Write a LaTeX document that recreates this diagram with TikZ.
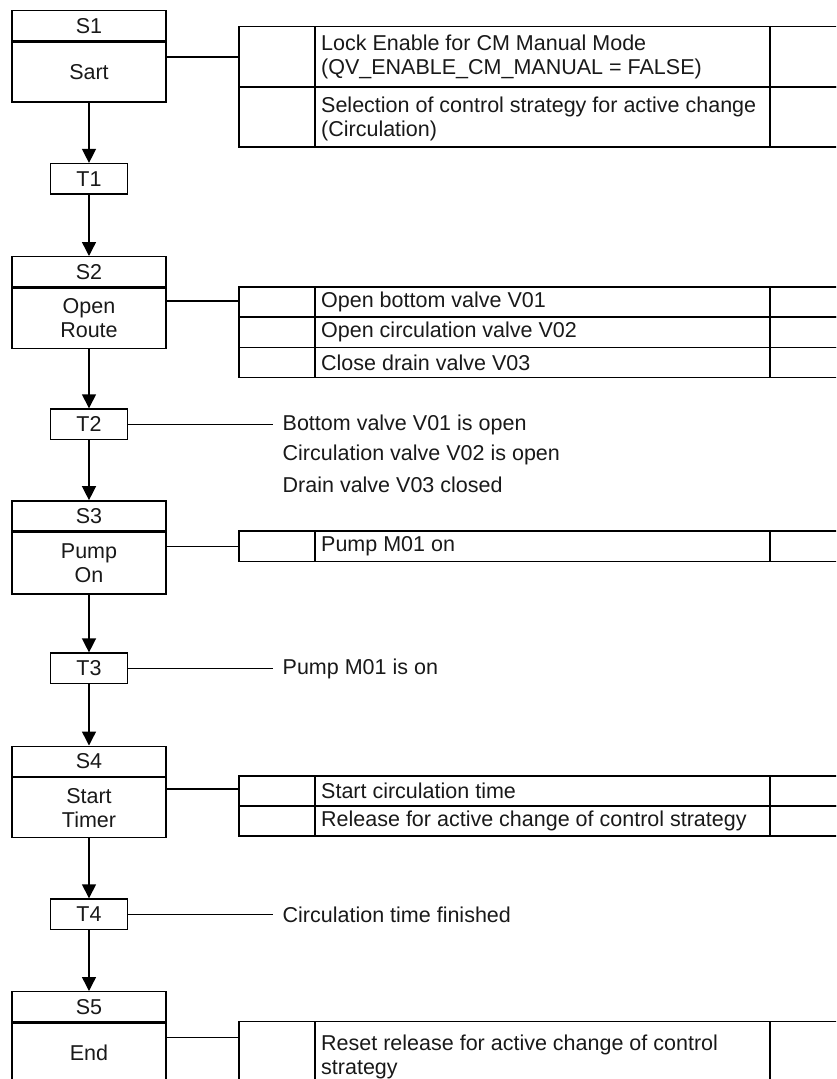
\documentclass[tikz,border=0pt]{standalone}
\usepackage{fontspec}
\setmainfont{Liberation Sans}
\usetikzlibrary{arrows.meta}
\begin{document}
\begin{tikzpicture}[x=1pt,y=-1pt,
  every node/.style={font=\fontsize{21.5}{24}\selectfont, text=black!90},
  ln/.style={line width=1.4pt},
  shead/.style={draw, line width=1.4pt, minimum width=153.7pt, minimum height=30pt, inner sep=0pt},
  sbody/.style={draw, line width=1.4pt, minimum width=153.7pt, minimum height=60pt, inner sep=0pt, align=center, anchor=north},
  tbox/.style={draw, line width=1.4pt, minimum width=76.6pt, minimum height=30.4pt, inner sep=0pt},
  cella/.style={draw, line width=1.4pt, minimum width=76pt, inner sep=0pt},
  cellb/.style={draw, line width=1.4pt, minimum width=455pt, inner sep=0pt},
  cellc/.style={draw, line width=1.4pt, minimum width=80pt, inner sep=0pt},
  ctext/.style={anchor=west, inner sep=0pt, align=left},
  flow/.style={line width=1.4pt, -{Triangle[length=14pt,width=14pt]}},
]
\useasboundingbox (0,0) rectangle (836,1079);
\clip (0,0) rectangle (836,1079);

% ---------- steps ----------
\node[shead] (s1h) at (89,25.7) {S1};
\node[sbody] (s1b) at (s1h.south) {Sart};
\node[tbox] (t1) at (89,178.8) {T1};
\node[shead] (s2h) at (89,271.7) {S2};
\node[sbody, minimum height=60.6pt] (s2b) at (s2h.south) {Open\\Route};
\node[tbox] (t2) at (89,424.2) {T2};
\node[shead] (s3h) at (89,515.85) {S3};
\node[sbody, minimum height=61.7pt] (s3b) at (s3h.south) {Pump\\On};
\node[tbox] (t3) at (89,668.3) {T3};
\node[shead] (s4h) at (89,761.2) {S4};
\node[sbody] (s4b) at (s4h.south) {Start\\Timer};
\node[tbox] (t4) at (89,914.2) {T4};
\node[shead] (s5h) at (89,1006.7) {S5};
\node[sbody] (s5b) at (s5h.south) {End};

% ---------- flow arrows ----------
\draw[flow] (s1b.south) -- (t1.north);
\draw[flow] (t1.south) -- (s2h.north);
\draw[flow] (s2b.south) -- (t2.north);
\draw[flow] (t2.south) -- (s3h.north);
\draw[flow] (s3b.south) -- (t3.north);
\draw[flow] (t3.south) -- (s4h.north);
\draw[flow] (s4b.south) -- (t4.north);
\draw[flow] (t4.south) -- (s5h.north);

% ---------- action table S1 ----------
\node[cella, minimum height=60.3pt] (a11) at (277,56.85) {};
\node[cellb, minimum height=60.3pt] (b11) at (542.5,56.85) {};
\node[cellc, minimum height=60.3pt] (c11) at (810,56.85) {};
\node[cella, minimum height=60pt] (a12) at (277,117) {};
\node[cellb, minimum height=60pt] (b12) at (542.5,117) {};
\node[cellc, minimum height=60pt] (c12) at (810,117) {};
\node[ctext] (x11) at (321,56.5) {Lock Enable for CM Manual Mode\\(QV\_ENABLE\_CM\_MANUAL = FALSE)};
\node[ctext] (x12) at (321,119) {Selection of control strategy for active change\\(Circulation)};
\draw[ln] (s1b.east |- a11.west) -- (a11.west);

% ---------- action table S2 ----------
\node[cella, minimum height=30.3pt] (a21) at (277,302) {};
\node[cellb, minimum height=30.3pt] (b21) at (542.5,302) {};
\node[cellc, minimum height=30.3pt] (c21) at (810,302) {};
\node[cella, minimum height=30.3pt] (a22) at (277,332.3) {};
\node[cellb, minimum height=30.3pt] (b22) at (542.5,332.3) {};
\node[cellc, minimum height=30.3pt] (c22) at (810,332.3) {};
\node[cella, minimum height=30.3pt] (a23) at (277,362.6) {};
\node[cellb, minimum height=30.3pt] (b23) at (542.5,362.6) {};
\node[cellc, minimum height=30.3pt] (c23) at (810,362.6) {};
\node[ctext] (x21) at (321,302) {Open bottom valve V01};
\node[ctext] (x22) at (321,332.3) {Open circulation valve V02};
\node[ctext] (x23) at (321,362.6) {Close drain valve V03};
\coordinate (k2) at (239,301);
\draw[ln] (s2b.east |- k2) -- (k2);

% ---------- transition T2 ----------
\coordinate (q2) at (272.7,424.2);
\draw[ln] (t2.east) -- (q2);
\node[ctext] (y21) at (282.5,424.5) {Bottom valve V01 is open};
\node[ctext] (y22) at (282.5,454.8) {Circulation valve V02 is open};
\node[ctext] (y23) at (282.5,485) {Drain valve V03 closed};

% ---------- action table S3 ----------
\node[cella, minimum height=30.7pt] (a31) at (277,546.35) {};
\node[cellb, minimum height=30.7pt] (b31) at (542.5,546.35) {};
\node[cellc, minimum height=30.7pt] (c31) at (810,546.35) {};
\node[ctext] (x31) at (321,546.35) {Pump M01 on};
\draw[ln] (s3b.east |- a31.west) -- (a31.west);

% ---------- transition T3 ----------
\coordinate (q3) at (272.7,668.3);
\draw[ln] (t3.east) -- (q3);
\node[ctext] (y31) at (282.5,668.8) {Pump M01 is on};

% ---------- action table S4 ----------
\node[cella, minimum height=30pt] (a41) at (277,791) {};
\node[cellb, minimum height=30pt] (b41) at (542.5,791) {};
\node[cellc, minimum height=30pt] (c41) at (810,791) {};
\node[cella, minimum height=30pt] (a42) at (277,821) {};
\node[cellb, minimum height=30pt] (b42) at (542.5,821) {};
\node[cellc, minimum height=30pt] (c42) at (810,821) {};
\node[ctext] (x41) at (321,791) {Start circulation time};
\node[ctext] (x42) at (321,821) {Release for active change of control strategy};
\coordinate (k4) at (239,789);
\draw[ln] (s4b.east |- k4) -- (k4);

% ---------- transition T4 ----------
\coordinate (q4) at (272.7,914.2);
\draw[ln] (t4.east) -- (q4);
\node[ctext] (y41) at (282.5,915) {Circulation time finished};

% ---------- action table S5 ----------
\node[cella, minimum height=62pt] (a51) at (277,1052.7) {};
\node[cellb, minimum height=62pt] (b51) at (542.5,1052.7) {};
\node[cellc, minimum height=62pt] (c51) at (810,1052.7) {};
\node[ctext] (x51) at (321,1057) {Reset release for active change of control\\strategy};
\coordinate (k5) at (239,1037.7);
\draw[ln] (s5b.east |- k5) -- (k5);
\end{tikzpicture}
\end{document}
